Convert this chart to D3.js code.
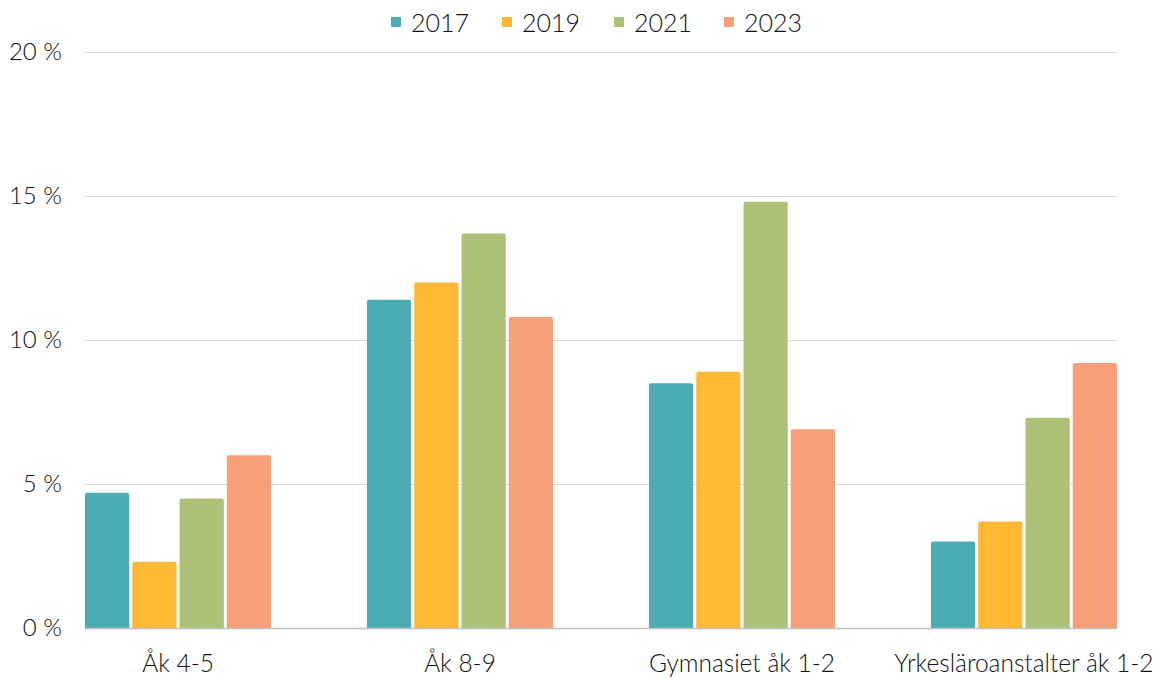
<!DOCTYPE html>
<html><head><meta charset="utf-8">
<script src="https://cdn.jsdelivr.net/npm/d3@7"></script>
<style>body{margin:0;background:#fff;} text{font-family:Lato,"Noto Sans",sans-serif;font-weight:300;fill:#111;}</style>
</head><body><svg id="c" width="1165" height="679"></svg>
<script>
const categories = ["Åk 4-5", "Åk 8-9", "Gymnasiet åk 1-2", "Yrkesläroanstalter åk 1-2"];
const seriesNames = ["2017", "2019", "2021", "2023"];
const v2017 = [4.7, 11.4, 8.5, 3.0];
const v2019 = [2.3, 12.0, 8.9, 3.7];
const v2021 = [4.5, 13.7, 14.8, 7.3];
const v2023 = [6.0, 10.8, 6.9, 9.2];
const yTicks = [0, 5, 10, 15, 20];
const colors = ["#4BACB6", "#FDB933", "#ADC178", "#F79F79"];
const seriesValues = [v2017, v2019, v2021, v2023];

(function () {
const svg = d3.select("#c");
const mLeft = 85, mRight = 1117, mTop = 52, mBottom = 628;
const x0 = d3.scaleBand().domain(categories).range([mLeft, mRight]).paddingInner(0.34).paddingOuter(0);
const x1 = d3.scaleBand().domain(seriesNames).range([0, x0.bandwidth()]).paddingInner(0.065).paddingOuter(0);
const y = d3.scaleLinear().domain([0, 20]).range([mBottom, mTop]);

svg.append("g").selectAll("line").data(yTicks.filter(t => t > 0)).join("line")
  .attr("x1", mLeft).attr("x2", mRight).attr("y1", d => y(d) + 0.5).attr("y2", d => y(d) + 0.5)
  .attr("stroke", "#d9d9d9").attr("stroke-width", 1);

svg.append("g").selectAll("text").data(yTicks).join("text")
  .attr("x", 62).attr("y", d => y(d)).attr("dy", "0.35em").attr("text-anchor", "end")
  .style("font-size", "24px").text(d => d + " %");

const data = [];
categories.forEach((c, i) => seriesNames.forEach((s, j) => data.push({c, s, v: seriesValues[j][i], col: colors[j]})));
svg.append("g").selectAll("path").data(data).join("path")
  .attr("d", d => {
    const xx = x0(d.c) + x1(d.s), w = x1.bandwidth(), yy = y(d.v), b = y(0), r = 2;
    return `M${xx},${b}V${yy + r}Q${xx},${yy} ${xx + r},${yy}H${xx + w - r}Q${xx + w},${yy} ${xx + w},${yy + r}V${b}Z`;
  })
  .attr("fill", d => d.col);

svg.append("line").attr("x1", mLeft).attr("x2", mRight).attr("y1", y(0) + 0.5).attr("y2", y(0) + 0.5)
  .attr("stroke", "#bfbfbf").attr("stroke-width", 1.5);

svg.append("g").selectAll("text").data(categories).join("text")
  .attr("x", d => x0(d) + x0.bandwidth() / 2).attr("y", 672).attr("text-anchor", "middle")
  .style("font-size", "24.5px").text(d => d);

const legX = [391, 502, 614, 724];
const lg = svg.append("g").selectAll("g").data(seriesNames).join("g")
  .attr("transform", (d, i) => `translate(${legX[i]},0)`);
lg.append("rect").attr("x", 0).attr("y", 17).attr("width", 10).attr("height", 10).attr("fill", (d, i) => colors[i]);
lg.append("text").attr("x", 20).attr("y", 32).style("font-size", "25px").text(d => d);
})();
</script></body></html>
